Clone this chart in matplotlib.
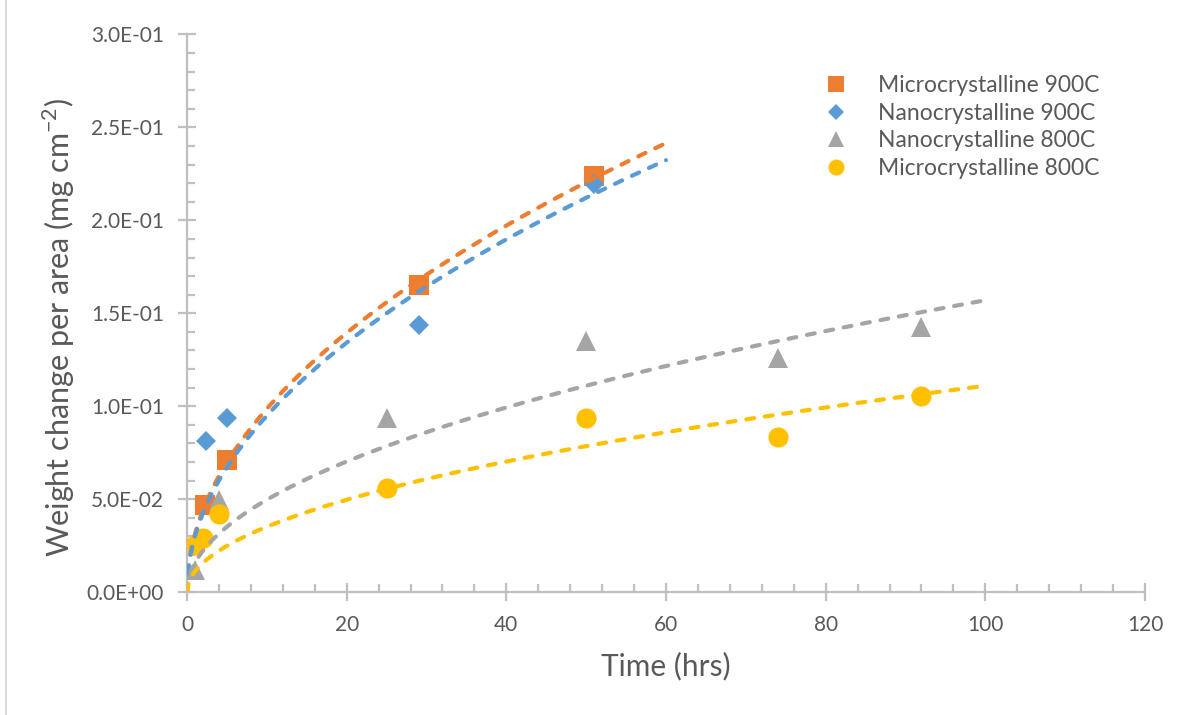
import numpy as np
import matplotlib
matplotlib.use('Agg')
import matplotlib.pyplot as plt
from matplotlib.lines import Line2D

plt.rcParams['font.family'] = ['Lato', 'DejaVu Sans']
plt.rcParams['mathtext.fontset'] = 'custom'
plt.rcParams['mathtext.rm'] = 'Lato'

# measured points
t_micro900 = [2.25, 5, 29, 51]
w_micro900 = [0.0468, 0.0710, 0.1650, 0.2240]
t_nano900 = [2.4, 5, 29, 51]
w_nano900 = [0.0812, 0.0936, 0.1436, 0.2195]
t_nano800 = [1, 4, 25, 50, 74, 92]
w_nano800 = [0.0118, 0.0495, 0.0936, 0.1350, 0.1260, 0.1426]
t_micro800 = [1, 2, 4, 25, 50, 74, 92]
w_micro800 = [0.0253, 0.0290, 0.0420, 0.0560, 0.0936, 0.0834, 0.1055]

# parabolic rate fits  w = k * sqrt(t)
k_micro900, tmax_micro900 = 0.03118, 60
k_nano900, tmax_nano900 = 0.0300, 60
k_nano800, tmax_nano800 = 0.0157, 100
k_micro800, tmax_micro800 = 0.0111, 100

orange = '#ED7D31'
blue = '#5B9BD5'
grey = '#A5A5A5'
yellow = '#FFC000'
txt = '#595959'
axc = '#BFBFBF'

fig = plt.figure(figsize=(11.87, 7.15), dpi=100)
ax = fig.add_axes([187/1187, 1-592/715, (1145-187)/1187, (592-34.5)/715])

ax.plot(t_micro900, w_micro900, 's', color=orange, ms=14, mew=0, zorder=3)
ax.plot(t_nano900, w_nano900, 'D', color=blue, ms=10.5, mew=0, zorder=3)
ax.plot(t_nano800, w_nano800, '^', color=grey, ms=15, mew=0, zorder=3)
ax.plot(t_micro800, w_micro800, 'o', color=yellow, ms=14.5, mew=0, zorder=3)

dash = (0, (1.9, 2.6))
for k, tmax, c in [(k_micro900, tmax_micro900, orange), (k_nano900, tmax_nano900, blue),
                   (k_nano800, tmax_nano800, grey), (k_micro800, tmax_micro800, yellow)]:
    tt = np.linspace(0, tmax, 400)
    ax.plot(tt, k*np.sqrt(tt), color=c, lw=3.0, ls=dash, dash_capstyle='round', zorder=4)

ax.set_xlim(0, 120)
ax.set_ylim(0, 0.3)
ax.set_xticks(np.arange(0, 121, 20))
ax.set_xticks(np.arange(0, 121, 4), minor=True)
ax.set_yticks(np.arange(0, 0.301, 0.05))
ax.set_yticks(np.arange(0, 0.301, 0.01), minor=True)
ax.set_yticklabels(['%.1E' % v for v in np.arange(0, 0.301, 0.05)])

for s in ['top', 'right']:
    ax.spines[s].set_visible(False)
for s in ['left', 'bottom']:
    ax.spines[s].set_color(axc)
    ax.spines[s].set_linewidth(1.6)
ax.tick_params(which='major', direction='inout', length=13, width=1.6, color=axc,
               labelcolor=txt, labelsize=15)
ax.tick_params(axis='y', which='major', pad=10)
ax.tick_params(axis='x', which='major', pad=10)
ax.tick_params(which='minor', direction='in', length=6, width=1.6, color=axc)

ax.set_xlabel('Time (hrs)', fontsize=21.5, color=txt)
ax.set_ylabel(r'Weight change per area (mg cm$^{\mathregular{-2}}$)', fontsize=22, color=txt)
ax.xaxis.set_label_coords(0.5, -0.107)
ax.yaxis.set_label_coords(-0.115, 0.475)

handles = [Line2D([], [], ls='none', marker='s', color=orange, ms=11, mew=0),
           Line2D([], [], ls='none', marker='D', color=blue, ms=8, mew=0),
           Line2D([], [], ls='none', marker='^', color=grey, ms=12, mew=0),
           Line2D([], [], ls='none', marker='o', color=yellow, ms=11.5, mew=0)]
labels = ['Microcrystalline 900C', 'Nanocrystalline 900C', 'Nanocrystalline 800C', 'Microcrystalline 800C']
ax.legend(handles, labels, loc='upper left', bbox_to_anchor=(802/1187, 1-64/715),
          bbox_transform=fig.transFigure, frameon=False, fontsize=16.5, labelcolor=txt,
          handlelength=2.0, handletextpad=0.83, labelspacing=0.28, borderpad=0)

fig.add_artist(Line2D([6/1187, 6/1187], [0, 1], color='#D9D9D9', lw=1.5, transform=fig.transFigure))

fig.savefig('out.png', dpi=100)
